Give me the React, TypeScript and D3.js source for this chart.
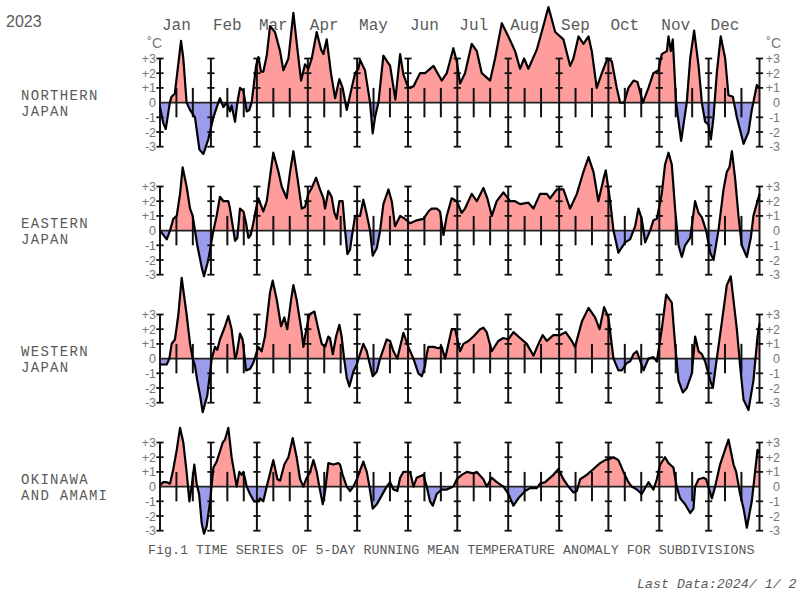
import React from 'react';
import * as d3 from 'd3';

// ---------- data ----------
const MONTHS = ['Jan', 'Feb', 'Mar', 'Apr', 'May', 'Jun', 'Jul', 'Aug', 'Sep', 'Oct', 'Nov', 'Dec'];
const MONTH_START_DAYS = [0, 31, 59, 90, 120, 151, 181, 212, 243, 273, 304, 334, 365];
const Y_TICKS = [3, 2, 1, 0, -1, -2, -3];
const Y_TICK_LABELS = ['+3', '+2', '+1', '0', '-1', '-2', '-3'];
const REGION_NAMES = [['NORTHERN', 'JAPAN'], ['EASTERN', 'JAPAN'], ['WESTERN', 'JAPAN'], ['OKINAWA', 'AND AMAMI']];

// [day of year (0 = Jan 1), 5-day running mean anomaly °C]
const northern: [number, number][] = [
  [0, -0.3], [2, -1.4], [3.5, -1.8], [6, 0], [7, 0.4], [9, 0.6], [12.8, 4.2], [14.2, 3.0], [16.2, 0],
  [18.3, -0.5], [21.3, -1], [24, -3.2], [26.4, -3.5], [29.4, -2.5], [32.5, -1], [35.5, 0], [36.5, 0.3],
  [38.6, -0.3], [40.6, 0], [42.6, -0.6], [43.6, -0.2], [45.7, -1.3], [47.1, 0], [48.7, 1], [50.8, 0.8],
  [52.8, -0.6], [54.4, -0.5], [55.8, 0], [58.5, 2.5], [59.9, 3.1], [61.5, 2.1], [62.9, 2.1], [65, 3.2],
  [67, 5.2], [70, 4.8], [73.1, 3.5], [75.1, 2.2], [78.2, 3], [81.2, 6.1], [83.8, 3.5], [85.9, 1.5],
  [88.3, 2.6], [90.3, 2.3], [92.4, 3], [95.4, 4.8], [98.1, 3.6], [99.5, 3.3], [101.5, 4.3], [104.1, 2],
  [106.6, 0.3], [109.2, 1.6], [111.2, 1], [113.7, -0.5], [116.7, 1], [118.8, 2], [120.8, 2.3],
  [121.8, 2.9], [124.8, 2.2], [127.9, 0], [129.5, -2.1], [130.9, -1], [133, 0], [136, 3.2], [140.1, 2.5],
  [143.3, 0.2], [146.2, 3.3], [148.2, 1.9], [151.2, 1.0], [154.3, 1.1], [158.3, 2], [161.4, 2],
  [166.5, 2.5], [171.5, 1.5], [174.6, 2], [178.6, 3.7], [180.7, 2.8], [182.7, 1.3], [185.7, 2],
  [189.8, 4], [192.9, 3.5], [195.9, 2], [201, 1.5], [204, 3], [208.1, 5.4], [212.1, 4.5], [216.2, 3.5],
  [219.2, 2.3], [221.7, 3], [224.3, 2.3], [229.4, 3.6], [232.4, 4.8], [236.5, 6.5], [240.6, 4.8],
  [245.6, 4.3], [249.7, 2.5], [251.7, 3], [254.8, 4.5], [257.8, 4], [260.9, 4.5], [262.9, 3.5],
  [265.9, 1], [269, 2], [272.4, 3], [275.1, 2.8], [278.1, 1], [280.1, 0], [282.6, 0], [285.2, 1],
  [288.3, 1.5], [290.7, 1.4], [294, 0], [297.4, 1], [300.4, 2], [303.5, 2.2], [305.5, 3.3], [308.6, 3.5],
  [309.6, 4.5], [311, 3.5], [312.2, 4.3], [314.2, 0], [317.3, -2.6], [320.7, 0], [322.8, 3], [325.2, 4.9],
  [327.9, 2.5], [329.9, 0], [331.9, -1.3], [333.9, -1.5], [335.4, -2.5], [337, -1], [339, 2],
  [341.4, 4.5], [344.1, 3], [346.1, 0.5], [348.8, 0.4], [351.2, -1], [355.3, -2.8], [358.3, -2],
  [360.3, -0.5], [363.4, 1.2], [365, 1],
];

const eastern: [number, number][] = [
  [0, 0], [4.1, -0.6], [6.1, 0], [8.1, 0.8], [10.2, 1.0], [12.2, 2.5], [13.8, 4.3], [16.2, 3.0],
  [18.3, 1.5], [19.9, 1.0], [21.3, 0], [22.7, -1], [25.4, -2.5], [26.8, -3.1], [29.4, -2], [32.5, 0],
  [34.5, 1], [36.5, 2.3], [38.6, 2.0], [41.6, 2.0], [42.6, 1.5], [45.7, -0.7], [47.1, -0.5], [48.7, 1.5],
  [50.8, 1.3], [52.4, 0.5], [53.8, -0.5], [55.2, -0.3], [56.8, 0.5], [58.5, 1.5], [59.9, 2.2],
  [62.9, 1.3], [65, 2], [68, 4.5], [69, 5.3], [72.1, 4], [74.1, 3], [77.1, 2.2], [79.2, 4], [81.2, 5.4],
  [83.8, 3.5], [86.3, 1.5], [88.3, 1.6], [90.3, 2.5], [92.4, 2.9], [95, 3.6], [97.4, 2.8], [99.5, 2.2],
  [100.5, 1.5], [102.5, 2.7], [104.5, 2.3], [106.2, 1.2], [107.6, 0.8], [109.2, 2], [111.2, 2],
  [112.7, 0], [114.1, -1.6], [115.7, -1.3], [116.7, -0.5], [118.8, 1], [121.8, 1], [123.8, 2.1],
  [125.5, 1.3], [127.9, 0], [129.5, -1.7], [132, -1.2], [134, 0], [136, 1.8], [139.1, 2.8], [141.1, 2],
  [143.1, 0.3], [146.2, 1.0], [149.2, 0.8], [152.3, 0.5], [156.3, 0.7], [160.4, 0.8], [163.4, 1.3],
  [165.4, 1.5], [168.5, 1.5], [170.5, 1.3], [172.6, -0.3], [174.6, 1], [177.6, 2.2], [180.7, 2],
  [183.7, 1.2], [185.7, 1.5], [189.8, 2.5], [192.9, 2], [196.9, 2.9], [199.3, 2.2], [202, 1], [205, 2],
  [209.1, 2.6], [213.2, 2], [216.2, 2], [219.2, 1.8], [224.3, 1.9], [227.4, 1.5], [231.4, 2.5],
  [235.5, 2.5], [237.5, 2.2], [241.6, 2.8], [245.6, 2.8], [249.7, 1.5], [253.8, 2.5], [257.8, 4],
  [260.9, 5], [263.9, 4], [266.9, 2], [270, 3.5], [271.4, 4.1], [274.1, 2], [276.1, 0], [279.1, -1.5],
  [283.2, -0.8], [286.2, -0.6], [289.3, 0.3], [291.3, 1.5], [293.3, 0.8], [295.4, -0.8], [298.4, 0],
  [300.4, 0.7], [302.5, 0.8], [305.5, 2.5], [307.5, 4.5], [309.6, 5.3], [311.6, 4.5], [313.6, 1.5],
  [315.7, -1], [317.7, -1.8], [319.7, -1], [322.8, -0.5], [325.8, 2], [327.9, 1.2], [329.9, 0.9],
  [332.5, 0], [335, -1.5], [337, -2], [340, 0], [343.1, 2.8], [345.1, 4], [346.7, 4.3], [348.2, 5.4],
  [350.2, 3.5], [352.2, 1], [354.2, -1], [357.3, -1.8], [359.7, -0.5], [361.3, 1], [365, 2.5],
];

const western: [number, number][] = [
  [0, -0.4], [4.1, -0.4], [5.7, 0], [7.1, 1], [9.1, 1.3], [11.2, 3], [13.2, 5.5], [16.2, 3], [18.3, 1],
  [19.9, 0], [21.3, -0.5], [22.7, -1.5], [24.4, -2.5], [26, -3.65], [28.8, -2.5], [31.5, 0], [33.5, 0.8],
  [34.9, 0.6], [36.5, 1.3], [39.6, 2.2], [41.6, 2.9], [43.6, 2], [45.7, 0], [46.7, 0.3], [48.7, 1.7],
  [50.3, 1.3], [52.4, -0.8], [54.8, -0.7], [56.8, -0.3], [59.9, 0.8], [61.9, 0.5], [63.9, 1.5],
  [67, 4.5], [68.6, 5.3], [71.1, 4], [73.7, 2.2], [75.7, 2.8], [77.5, 2], [79.8, 4], [81.2, 5], [83.2, 4],
  [86.3, 1.8], [87.3, 0.8], [88.3, 1.5], [90.9, 3], [94, 3.2], [96.4, 2], [98.5, 1], [100.5, 0.8],
  [102.5, 1.5], [103.5, 1.4], [105.2, 0.3], [107.2, 1.5], [109.2, 2.3], [110.6, 1.5], [112.1, 0],
  [113.7, -1.3], [115.3, -1.9], [117.7, -0.9], [119.8, -0.4], [123.8, 1], [125.9, 0.5], [126.9, 0],
  [129.5, -1.2], [132, -0.9], [134, 0], [138, 1.3], [140.1, 1.2], [142.1, 0.5], [144.5, 0], [148.2, 1.75],
  [151.2, 0.8], [154.3, 0], [157.3, -1], [159.4, -1.2], [161.4, -0.5], [162.4, 0.3], [163.4, 0.8],
  [166.5, 0.8], [169.5, 0.7], [171.5, 0.8], [173.6, 0], [175.6, 1], [177.6, 2], [179.7, 2], [182.7, 0.5],
  [184.7, 1], [187.8, 1.2], [190.8, 1.5], [194.9, 2], [196.9, 2.1], [198.9, 1.8], [202, 0.5], [206, 1.2],
  [209.1, 1.4], [212.1, 1.3], [215.2, 1.8], [218.2, 1.5], [223.3, 1], [227.4, 0.2], [230.4, 1],
  [233, 1.6], [235.5, 1.2], [239.5, 1.6], [243.6, 1.6], [247, 1.8], [250.7, 1.2], [252.7, 0.8],
  [256.8, 2.5], [260.9, 3.45], [264.9, 2.8], [267.6, 2], [270.4, 3.5], [273, 2.8], [276.1, 0],
  [279.1, -0.8], [281.2, -0.8], [284.2, -0.3], [286.2, -0.2], [288.3, 0.3], [290.3, 0.5], [294.4, -0.8],
  [297.4, 0], [300.4, 0.1], [302.5, -0.2], [305.5, 2], [308.2, 4.35], [311.6, 3.8], [313.6, 1],
  [315.7, -1.5], [318.3, -2.3], [320.7, -2], [323.8, -1], [325.8, 1.5], [327.9, 0.5], [329.9, 0.3],
  [331.9, -0.2], [335, -1.5], [336.6, -2], [339, 0], [342.1, 2.5], [345.1, 5], [347.5, 5.6], [351.2, 2],
  [353.2, -0.5], [355.3, -2.8], [358.3, -3.5], [361.3, -1.5], [363.8, 1.5], [365, 2.4],
];

const okinawa: [number, number][] = [
  [0, 0.1], [2, 0.3], [4.1, 0.3], [6.1, 0.2], [8.1, 1.2], [10.2, 2.5], [12.2, 4], [14.2, 3], [16.2, 1],
  [17.9, -1], [19.3, 0], [20.9, 1.5], [22.3, 0.2], [23.8, -0.5], [25.4, -2.5], [26.8, -3.2], [28.4, -2.7],
  [30.5, -1], [32.5, 1.3], [34.5, 1.7], [38.2, 3], [39.6, 3.2], [41.6, 4], [43.6, 2], [46.7, 0],
  [48.3, 1], [49.7, 0.8], [50.8, 1], [52.8, 0], [54.8, -0.5], [57.2, -1], [59.9, -1], [60.9, -0.8],
  [62.9, -1], [65, 0], [69, 1.8], [71.5, 0.5], [73.1, 0.4], [75.7, 1.5], [78.2, 2], [80.8, 3.3],
  [83.2, 2], [85.3, 0.5], [87.3, 0], [88.9, 0.5], [91.4, 1], [93.4, 1.8], [95.4, 1], [97, 0],
  [99.1, -1.2], [100.5, -0.3], [102.5, 1.6], [105.6, 1.5], [108.6, 1.6], [109.6, 1.5], [111.2, 0.8],
  [113.7, 0], [115.7, -0.3], [117.7, 0], [119.8, 0.5], [123.8, 1.7], [125.9, 1], [127.5, 0],
  [129.5, -1.5], [132, -1.2], [134, -0.8], [138, 0], [140.1, 0.3], [142.1, -0.2], [144.5, -0.3],
  [146.2, 0.6], [148.2, 1], [152.3, 1], [154.3, 0], [156.3, 0.6], [160.4, 0.8], [162.4, 0], [164.4, -1],
  [166.1, -1.3], [168.5, -0.5], [171.5, -0.2], [174.6, -0.2], [178.6, 0], [180.7, 0.5], [183.7, 0.8],
  [186.8, 1], [190.8, 0.9], [192.9, 1], [196.9, 0.5], [198.9, 0], [202, 0.6], [205, 0.3], [209.1, 0],
  [212.1, -0.5], [215.2, -1.3], [218.2, -0.8], [222.3, -0.3], [225.3, -0.1], [229.4, -0.1], [231.4, 0.2],
  [234.5, 0.3], [239.5, 0.8], [242.6, 1.2], [245.6, 0.5], [248.7, 0], [251.7, -0.4], [253.8, -0.3],
  [255.8, 0.5], [259.8, 0.8], [263.9, 1.2], [267.9, 1.6], [271, 1.8], [274.1, 1.9], [276.1, 2],
  [279.1, 1.8], [282.2, 1], [285.2, 0.3], [287.2, 0], [290.3, -0.2], [293.3, -0.5], [297.4, 0.3],
  [300.4, -0.2], [302.5, 0.5], [304.5, 1.5], [307.5, 2], [309.6, 1.6], [312.6, 1.3], [314.6, 0],
  [316.7, -0.8], [319.7, -1.2], [322.8, -1.8], [324.8, -1.5], [325.8, 0], [327.9, 0.5], [330.9, 0.6],
  [332.5, 0.5], [336, -0.8], [338, 0], [341, 1.5], [346.1, 3.2], [349.2, 1.5], [350.8, 1], [353.2, -0.5],
  [355.3, -1.5], [357.3, -2.8], [360.3, -1], [362.3, 1], [363.8, 2.5], [365, 2.3],
];

const SERIES = [northern, eastern, western, okinawa];

// ---------- layout ----------
const W = 798;
const H = 595;
const X0 = 160;
const X1 = 759.5;
const ZERO0 = 102.6;
const PANEL_STEP = 128;
const UNIT = 14.7;

const PINK = '#ff9d9d';
const BLUE = '#9c9cec';
const TEXT = '#5a5a5a';
const MONO = '"Liberation Mono", "DejaVu Sans Mono", monospace';
const SANS = '"Liberation Sans", Arial, sans-serif';

const x = d3.scaleLinear().domain([0, 365]).range([X0, X1]);

const shortTickDays: number[] = [];
MONTH_START_DAYS.slice(0, 12).forEach((d) => {
  shortTickDays.push(d + 10, d + 20);
});

function Panel({ data, index }: { data: [number, number][]; index: number }) {
  const zero = ZERO0 + index * PANEL_STEP;
  const y = d3.scaleLinear().domain([0, 1]).range([zero, zero - UNIT]);
  const area = d3
    .area<[number, number]>()
    .x((d) => x(d[0]))
    .y0(y(0))
    .y1((d) => y(d[1]));
  const line = d3
    .line<[number, number]>()
    .x((d) => x(d[0]))
    .y((d) => y(d[1]));
  const areaD = area(data) || '';
  const lineD = line(data) || '';
  const clipTop = `clip-top-${index}`;
  const clipBot = `clip-bot-${index}`;
  const bar = 3.6;
  return (
    <g>
      <defs>
        <clipPath id={clipTop}>
          <rect x={0} y={0} width={W} height={y(0)} />
        </clipPath>
        <clipPath id={clipBot}>
          <rect x={0} y={y(0)} width={W} height={H} />
        </clipPath>
      </defs>
      <path d={areaD} fill={PINK} clipPath={`url(#${clipTop})`} />
      <path d={areaD} fill={BLUE} clipPath={`url(#${clipBot})`} />
      <line x1={X0} x2={X1} y1={y(0)} y2={y(0)} stroke="#222" strokeWidth={1.6} />
      {MONTH_START_DAYS.map((d) => (
        <g key={`m${d}`}>
          <line x1={x(d)} x2={x(d)} y1={y(3)} y2={y(-3)} stroke="#111" strokeWidth={2} />
          {Y_TICKS.filter((v) => v !== 0).map((v) => (
            <line
              key={v}
              x1={x(d) - bar}
              x2={x(d) + bar}
              y1={y(v)}
              y2={y(v)}
              stroke="#111"
              strokeWidth={1.8}
            />
          ))}
        </g>
      ))}
      {shortTickDays.map((d) => (
        <line key={`s${d}`} x1={x(d)} x2={x(d)} y1={y(1)} y2={y(-1)} stroke="#111" strokeWidth={2} />
      ))}
      <path d={lineD} fill="none" stroke="#000" strokeWidth={2.2} strokeLinejoin="round" />
      {Y_TICKS.map((v, i) => (
        <g key={`l${v}`}>
          <text x={156} y={y(v) + 4.5} textAnchor="end" fontFamily={SANS} fontSize={12.5} fill="#777">
            {Y_TICK_LABELS[i]}
          </text>
          <text x={780} y={y(v) + 4.5} textAnchor="end" fontFamily={SANS} fontSize={12.5} fill="#777">
            {Y_TICK_LABELS[i]}
          </text>
        </g>
      ))}
      {index === 0 && (
        <>
          <text x={162} y={48} textAnchor="end" fontFamily={SANS} fontSize={14} fill="#777">
            ˚C
          </text>
          <text x={781} y={48} textAnchor="end" fontFamily={SANS} fontSize={14} fill="#777">
            ˚C
          </text>
        </>
      )}
      {REGION_NAMES[index].map((s, i) => (
        <text
          key={s}
          x={21}
          y={zero - 2.5 + i * 16}
          fontFamily={MONO}
          fontSize={14}
          letterSpacing={1.3}
          fill={TEXT}
        >
          {s}
        </text>
      ))}
    </g>
  );
}

export default function App() {
  return (
    <svg
      width={W}
      height={H}
      viewBox={`0 0 ${W} ${H}`}
      style={{ position: 'absolute', left: 0, top: 0, background: '#fff' }}
    >
      <rect x={0} y={0} width={W} height={H} fill="#fff" />
      <text x={6} y={27} fontFamily={SANS} fontSize={16} fill={TEXT}>
        2023
      </text>
      {MONTHS.map((m, i) => (
        <text key={m} x={x(MONTH_START_DAYS[i]) + 2} y={30} fontFamily={MONO} fontSize={16} fill={TEXT}>
          {m}
        </text>
      ))}
      {SERIES.map((s, i) => (
        <Panel key={i} data={s} index={i} />
      ))}
      <text x={148} y={554} fontFamily={MONO} fontSize={13.3} fill={TEXT}>
        Fig.1 TIME SERIES OF 5-DAY RUNNING MEAN TEMPERATURE ANOMALY FOR SUBDIVISIONS
      </text>
      <text x={637} y={588} fontFamily={MONO} fontSize={13.3} fontStyle="italic" fill={TEXT}>
        Last Data:2024/ 1/ 2
      </text>
    </svg>
  );
}
